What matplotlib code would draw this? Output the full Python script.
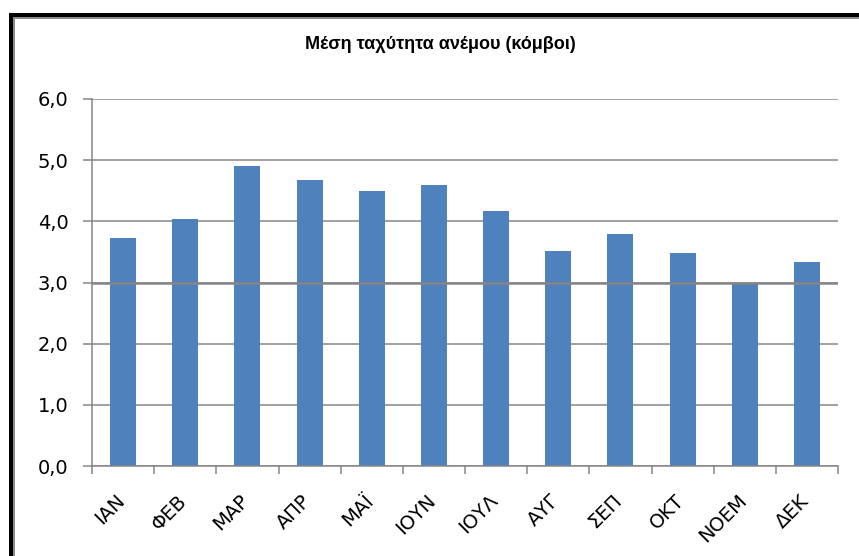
import matplotlib
matplotlib.use("Agg")
import matplotlib.pyplot as plt
import matplotlib.transforms as mtransforms
from matplotlib.patches import Rectangle
from matplotlib.ticker import FuncFormatter, MultipleLocator

months = ["ΙΑΝ", "ΦΕΒ", "ΜΑΡ", "ΑΠΡ", "ΜΑΪ", "ΙΟΥΝ", "ΙΟΥΛ", "ΑΥΓ", "ΣΕΠ", "ΟΚΤ", "ΝΟΕΜ", "ΔΕΚ"]
speeds = [3.73, 4.03, 4.91, 4.68, 4.49, 4.60, 4.17, 3.52, 3.80, 3.48, 3.00, 3.34]
title = "Μέση ταχύτητα ανέμου (κόμβοι)"

W, H = 859, 556
fig = plt.figure(figsize=(W / 100, H / 100), dpi=100)
ax = fig.add_axes([92 / W, 1 - 466 / H, (838 - 92) / W, (466 - 99) / H])

grey = "#868686"
x = list(range(len(months)))
ax.bar(x, speeds, width=0.42, color="#4F81BD", zorder=2)
ax.set_xlim(-0.5, len(months) - 0.5)
ax.set_ylim(0, 6)
ax.yaxis.set_major_locator(MultipleLocator(1))
ax.yaxis.set_major_formatter(FuncFormatter(lambda v, p: f"{v:.1f}".replace(".", ",")))
ax.grid(axis="y", color=grey, linewidth=1.1, zorder=0)
ax.set_axisbelow(True)
ax.axhline(3.0, color=grey, linewidth=1.8, zorder=3)

for s in ["top", "right"]:
    ax.spines[s].set_visible(False)
for s in ["left", "bottom"]:
    ax.spines[s].set_color(grey)
    ax.spines[s].set_linewidth(1.1)

ax.set_xticks([i + 0.5 for i in range(-1, len(months))], minor=False)
ax.set_xticklabels([])
ax.tick_params(axis="x", which="major", length=5.8, color=grey, width=1.1)
ax.set_xticks(x, minor=True)
ax.set_xticklabels(months, minor=True, rotation=45, ha="right", va="top",
                   rotation_mode="anchor", fontsize=14, family="DejaVu Sans")
ax.tick_params(axis="x", which="minor", length=0, pad=18)
offset = mtransforms.ScaledTranslation(-8 / 100, 0, fig.dpi_scale_trans)
for lbl in ax.get_xticklabels(minor=True):
    lbl.set_transform(lbl.get_transform() + offset)
ax.tick_params(axis="y", length=6.5, color=grey, width=1.1, labelsize=14, pad=10.5)

fig.text(440 / W, 1 - 45 / H, title, ha="center", va="center", fontsize=13,
         fontweight="bold", family="Liberation Sans")

# outer frame (top and left)
fig.add_artist(Rectangle((9 / W, 0), 4 / W, 1 - 13 / H, transform=fig.transFigure,
                         facecolor="black", edgecolor="none"))
fig.add_artist(Rectangle((13 / W, 0), 1.5 / W, 1 - 17 / H, transform=fig.transFigure,
                         facecolor="#8a8a8a", edgecolor="none"))
fig.add_artist(Rectangle((9 / W, 1 - 17 / H), 1 - 9 / W, 4 / H, transform=fig.transFigure,
                         facecolor="black", edgecolor="none"))
fig.add_artist(Rectangle((13 / W, 1 - 18.5 / H), 1 - 13 / W, 1.5 / H, transform=fig.transFigure,
                         facecolor="#8a8a8a", edgecolor="none"))

fig.savefig("out.png", dpi=100)
